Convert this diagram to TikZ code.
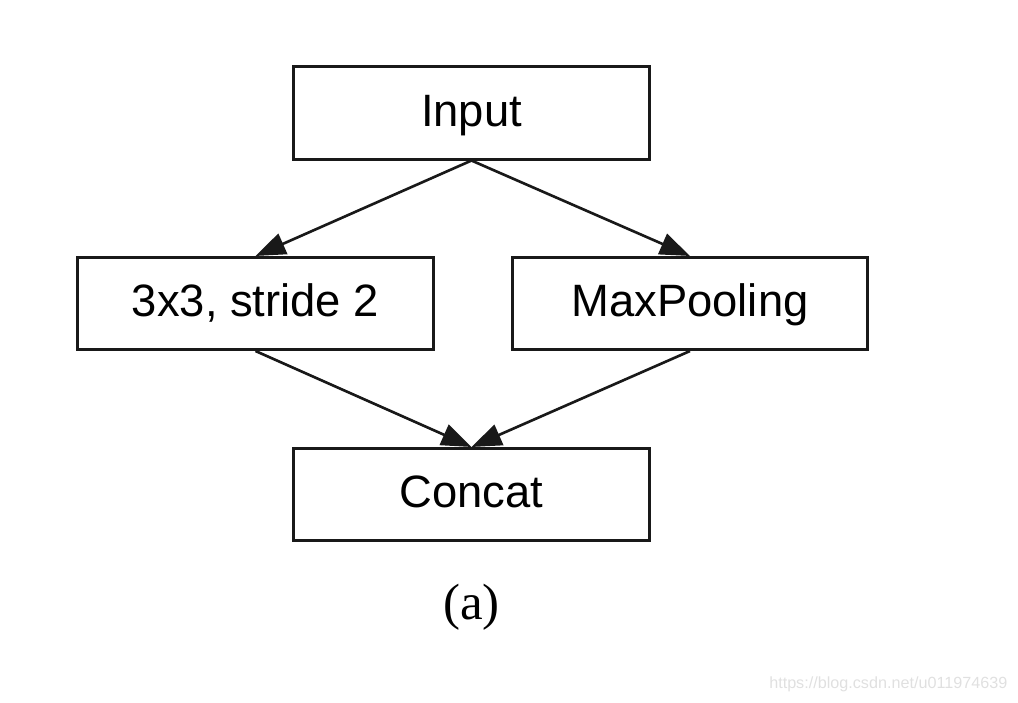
\documentclass[tikz,border=0pt]{standalone}
\usepackage{fontspec}
\setmainfont{Liberation Serif}
\newfontfamily\boxfont{Liberation Sans}
\usetikzlibrary{arrows.meta}

\tikzset{
	layer/.style={draw=black!90, line width=0.85pt, minimum width=3.55cm, minimum height=0.92cm,
		font=\boxfont\fontsize{12.9}{15}\selectfont, inner sep=0pt, text height=0.85em, text depth=0.1em},
	flow/.style={draw=black!90, line width=0.75pt, -{Triangle[length=0.3cm,width=0.22cm]}}
}

\begin{document}
\begin{tikzpicture}[x=0.01cm, y=-0.01cm]
	\useasboundingbox (0,0) rectangle (1018,703);
	\node[layer] (input) at (471.5,113) {Input};
	\node[layer] (conv) at (255.5,303.5) {3x3, stride 2};
	\node[layer] (pool) at (690,303.5) {MaxPooling};
	\node[layer] (concat) at (471.5,494.5) {Concat};
	\node[font=\fontsize{14.5}{17}\selectfont] (caption) at (471.5,607) {(a)};
	\node[font=\boxfont\fontsize{4.6}{5.5}\selectfont, text=black!12, anchor=east, inner sep=0pt] (mark) at (1008,684) {https://blog.csdn.net/u011974639};
	\path
	(input.south) edge[flow] (conv.north) edge[flow] (pool.north)
	(conv.south) edge[flow] (concat.north)
	(pool.south) edge[flow] (concat.north);
\end{tikzpicture}
\end{document}
